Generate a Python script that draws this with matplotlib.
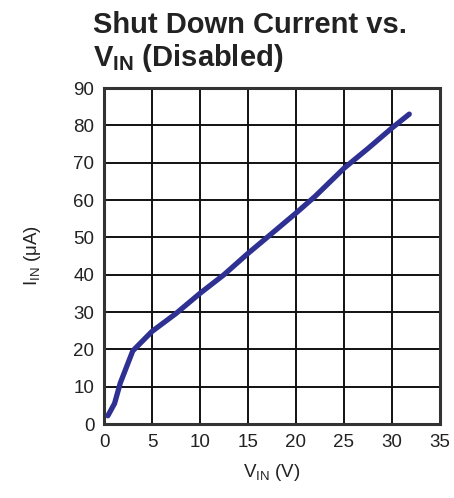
import numpy as np
import matplotlib
matplotlib.use("Agg")
import matplotlib.pyplot as plt

plt.rcParams['font.family'] = ['Liberation Sans', 'DejaVu Sans']
plt.rcParams['mathtext.fontset'] = 'custom'
plt.rcParams['mathtext.rm'] = 'Liberation Sans'
plt.rcParams['mathtext.it'] = 'Liberation Sans'
plt.rcParams['mathtext.bf'] = 'Liberation Sans:bold'

# values
vin = [0.4, 1.1, 1.7, 3.0, 5.0, 7.5, 10.0, 12.5, 15.0, 17.0, 20.0, 22.0, 25.0, 27.5, 30.0, 31.8]
iin = [2.2, 5.5, 11.0, 19.6, 24.8, 29.6, 35.0, 40.0, 45.7, 50.0, 56.5, 61.0, 68.5, 73.8, 79.3, 83.0]
x_ticks = [0, 5, 10, 15, 20, 25, 30, 35]
y_ticks = [0, 10, 20, 30, 40, 50, 60, 70, 80, 90]

fig = plt.figure(figsize=(4.54, 4.98), dpi=100)
ax = fig.add_axes([104/454, 1 - 424/498, 336/454, 336/498])

ax.plot(vin, iin, color='#2e3192', lw=3.8, solid_capstyle='round', solid_joinstyle='round', zorder=3)

ax.set_xlim(0, 35)
ax.set_ylim(0, 90)
ax.set_xticks(x_ticks)
ax.set_yticks(y_ticks)
ax.grid(True, color='#111111', lw=1.4)
ax.tick_params(length=0, labelsize=13.5, colors='#222222', pad=7)
for s in ax.spines.values():
    s.set_linewidth(2.2)
    s.set_color('#333333')

ax.set_xlabel(r'V$_{\mathregular{IN}}$ (V)', fontsize=13.5, color='#222222', labelpad=8)
ax.set_ylabel(r'I$_{\mathregular{IN}}$ ($\mathregular{\mu}$A)', fontsize=13.5, color='#222222', labelpad=22)

fig.text(93/454, 1 - 11/498, 'Shut Down Current vs.\n' + r'$\mathbf{V_{IN}}$ (Disabled)',
         fontsize=21, fontweight='bold', color='#222222', va='top', ha='left', linespacing=1.12)

fig.savefig('out.png', dpi=100)
